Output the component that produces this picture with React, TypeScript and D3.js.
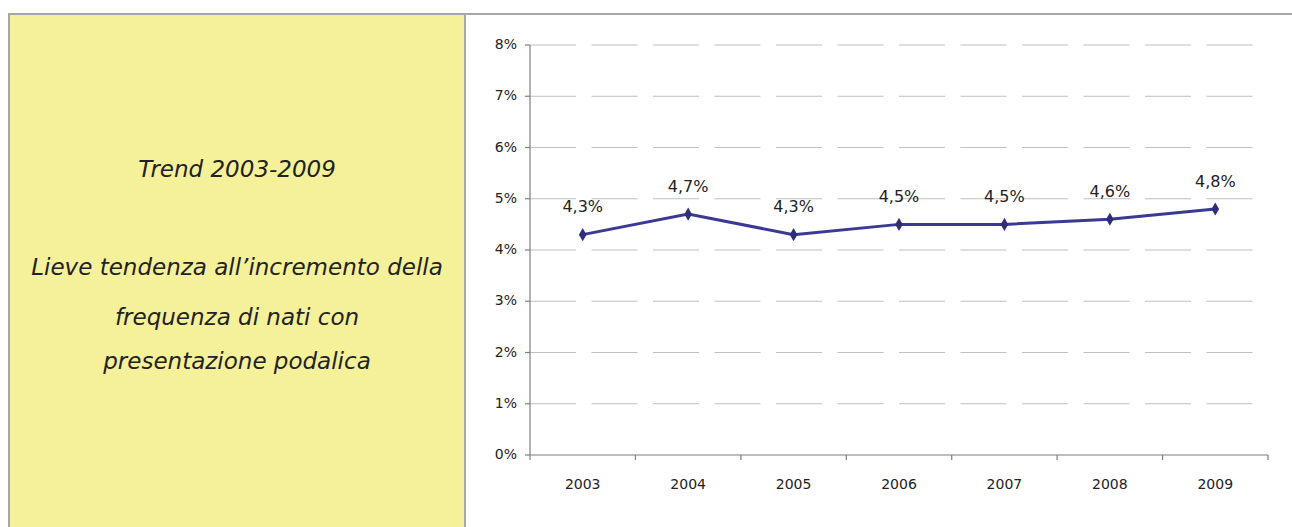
import React from "react";
import * as d3 from "d3";

const years = ["2003", "2004", "2005", "2006", "2007", "2008", "2009"];
const values = [4.3, 4.7, 4.3, 4.5, 4.5, 4.6, 4.8];
const yTicks = [0, 1, 2, 3, 4, 5, 6, 7, 8];
const panelLines = [
  "Trend 2003-2009",
  "",
  "Lieve tendenza all\u2019incremento della",
  "frequenza di nati con",
  "presentazione podalica",
];
const panelLineY = [170, 0, 268, 318, 362];

const W = 1292;
const H = 527;
const FONT = "'DejaVu Sans', Verdana, sans-serif";

export default function App() {
  const x = d3.scaleBand<string>().domain(years).range([530, 1268]).padding(0);
  const y = d3.scaleLinear().domain([0, 8]).range([455, 45]);
  const line = d3
    .line<number>()
    .x((_, i) => (x(years[i]) as number) + x.bandwidth() / 2)
    .y((d) => y(d));
  const fmt = (v: number) => d3.format(".1f")(v).replace(".", ",") + "%";
  const diamond = d3.symbol().type(d3.symbolDiamond).size(50)();
  const ticksX = [...years.map((d) => x(d) as number), 1268];

  return (
    <svg
      width={W}
      height={H}
      style={{ position: "absolute", left: 0, top: 0, background: "#fff" }}
    >
      {/* left yellow panel */}
      <rect x={9} y={14} width={456} height={H - 14} fill="#F5F19A" />
      <line x1={9} y1={14} x2={9} y2={H} stroke="#a6a6a6" strokeWidth={2} />
      <line x1={465} y1={14} x2={465} y2={H} stroke="#a6a6a6" strokeWidth={2} />
      <line x1={8} y1={14} x2={W} y2={14} stroke="#a6a6a6" strokeWidth={2} />
      {panelLines.map((t, i) =>
        t ? (
          <text
            key={i}
            x={237}
            y={panelLineY[i]}
            textAnchor="middle"
            dominantBaseline="middle"
            fontFamily={FONT}
            fontStyle="italic"
            fontSize={23}
            fill="#222"
          >
            {t}
          </text>
        ) : null
      )}

      {/* gridlines */}
      {yTicks
        .filter((t) => t > 0)
        .map((t) => (
          <line
            key={t}
            x1={530}
            x2={1268}
            y1={y(t)}
            y2={y(t)}
            stroke="#c0c0c0"
            strokeWidth={1.2}
            strokeDasharray="46,15.5"
          />
        ))}

      {/* y axis */}
      <line x1={530} x2={530} y1={45} y2={455} stroke="#7f7f7f" strokeWidth={1.2} />
      {yTicks.map((t) => (
        <g key={t}>
          <line x1={525} x2={530} y1={y(t)} y2={y(t)} stroke="#7f7f7f" strokeWidth={1.2} />
          <text
            x={517}
            y={y(t)}
            textAnchor="end"
            dominantBaseline="middle"
            fontFamily={FONT}
            fontSize={14}
            fill="#222"
          >
            {t + "%"}
          </text>
        </g>
      ))}

      {/* x axis */}
      <line x1={530} x2={1268} y1={455} y2={455} stroke="#7f7f7f" strokeWidth={1.2} />
      {ticksX.map((tx, i) => (
        <line key={i} x1={tx} x2={tx} y1={455} y2={460} stroke="#7f7f7f" strokeWidth={1.2} />
      ))}
      {years.map((yr) => (
        <text
          key={yr}
          x={(x(yr) as number) + x.bandwidth() / 2}
          y={485}
          textAnchor="middle"
          dominantBaseline="middle"
          fontFamily={FONT}
          fontSize={14}
          fill="#222"
        >
          {yr}
        </text>
      ))}

      {/* series */}
      <path d={line(values) || ""} fill="none" stroke="#3a3a94" strokeWidth={3} />
      {values.map((v, i) => {
        const cx = (x(years[i]) as number) + x.bandwidth() / 2;
        const cy = y(v);
        return (
          <g key={i}>
            <path d={diamond || ""} transform={`translate(${cx},${cy})`} fill="#2e2e7a" />
            <text
              x={cx}
              y={cy - 27}
              textAnchor="middle"
              dominantBaseline="middle"
              fontFamily={FONT}
              fontSize={16}
              fill="#222"
            >
              {fmt(v)}
            </text>
          </g>
        );
      })}
    </svg>
  );
}
